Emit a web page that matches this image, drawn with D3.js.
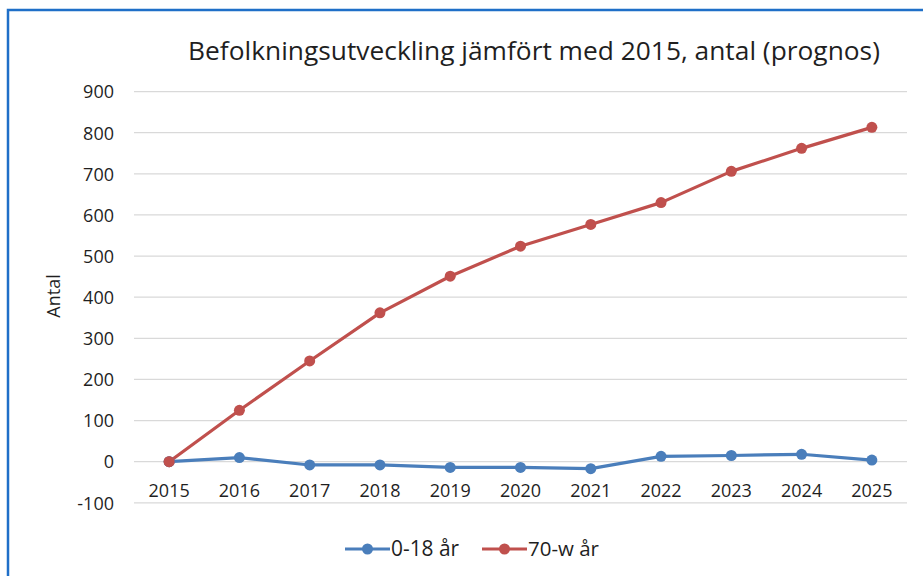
<!DOCTYPE html>
<html><head><meta charset="utf-8">
<script src="https://cdn.jsdelivr.net/npm/d3@7"></script>
<style>body{margin:0;background:#fff}svg{display:block}text{font-family:"Open Sans","Noto Sans",sans-serif}</style>
</head><body>
<script>
const years = ["2015","2016","2017","2018","2019","2020","2021","2022","2023","2024","2025"];
const youth = [0, 10, -8, -8, -14, -14, -17, 13, 15, 18, 4];
const elderly = [0, 125, 245, 362, 451, 524, 577, 630, 706, 762, 813];
const yTicks = [-100, 0, 100, 200, 300, 400, 500, 600, 700, 800, 900];
const seriesNames = ["0-18 år", "70-w år"];
const seriesColors = ["#4a7ebb", "#c0504d"];
const titleText = "Befolkningsutveckling jämfört med 2015, antal (prognos)";
const yLabel = "Antal";

const W = 923, H = 576;
const svg = d3.select("body").append("svg").attr("width", W).attr("height", H);

// frame (cropped border)
svg.append("rect").attr("x", 8).attr("y", 10).attr("width", W + 20).attr("height", H + 20)
  .attr("fill", "#fff").attr("stroke", "#1f6fc8").attr("stroke-width", 2.5);

const x = d3.scaleBand().domain(years).range([134, 907]);
const y = d3.scaleLinear().domain([-100, 900]).range([502.8, 91.6]);

// gridlines
svg.append("g").selectAll("line").data(yTicks).join("line")
  .attr("x1", 134).attr("x2", 907)
  .attr("y1", d => y(d)).attr("y2", d => y(d))
  .attr("stroke", "#d9d9d9").attr("stroke-width", 1.2);

const txtCol = "#1f1f1f";
// y axis labels
const yAxis = d3.axisLeft(y).tickValues(yTicks).tickFormat(d => String(d)).tickSize(0).tickPadding(0);
const gy = svg.append("g").attr("transform", "translate(114,0)").call(yAxis);
gy.select(".domain").remove();
gy.selectAll("text").attr("font-size", 18).attr("fill", txtCol).attr("dy", "0.35em");

// x axis labels (positioned just below zero line)
const xAxis = d3.axisBottom(x).tickSize(0).tickPadding(0);
const gx = svg.append("g").attr("transform", `translate(0,${y(0) + 29})`).call(xAxis);
gx.select(".domain").remove();
gx.selectAll("text").attr("font-size", 18).attr("fill", txtCol).attr("dy", "0.35em");

// y label
svg.append("text").attr("transform", "translate(54,296) rotate(-90)")
  .attr("text-anchor", "middle").attr("dy", "0.35em")
  .attr("font-size", 18).attr("fill", txtCol).text(yLabel);

// title
const t = svg.append("text").attr("x", 534).attr("y", 51).attr("text-anchor", "middle")
  .attr("dy", "0.35em").attr("font-size", 22).attr("fill", txtCol).text(titleText);
const tl = t.node().getComputedTextLength();
t.attr("font-size", 22 * 692 / tl);

// lines
const cx = d => x(d) + x.bandwidth() / 2;
const data = [youth, elderly];
const line = d3.line().x((d, i) => cx(years[i])).y(d => y(d));
[1, 0].forEach(s => {
  svg.append("path").datum(data[s]).attr("d", line).attr("fill", "none")
    .attr("stroke", seriesColors[s]).attr("stroke-width", 3.2).attr("stroke-linejoin", "round");
  svg.append("g").selectAll("circle").data(data[s]).join("circle")
    .attr("cx", (d, i) => cx(years[i])).attr("cy", d => y(d)).attr("r", 5.5)
    .attr("fill", seriesColors[s]);
});
// red first point drawn on top (as in reference)
svg.append("circle").attr("cx", cx(years[0])).attr("cy", y(elderly[0])).attr("r", 5.5).attr("fill", seriesColors[1]);

// legend
const legX = [345, 482];
seriesNames.forEach((n, i) => {
  const g = svg.append("g");
  g.append("line").attr("x1", legX[i]).attr("x2", legX[i] + 45).attr("y1", 549).attr("y2", 549)
    .attr("stroke", seriesColors[i]).attr("stroke-width", 3.2);
  g.append("circle").attr("cx", legX[i] + 22.5).attr("cy", 549).attr("r", 5.5).attr("fill", seriesColors[i]);
  const tx = g.append("text").attr("x", legX[i] + 46).attr("y", 549).attr("dy", "0.35em")
    .attr("font-size", 19).attr("fill", txtCol).text(n);
  const w = tx.node().getComputedTextLength();
  tx.attr("font-size", 19 * Math.min(1.1, 71 / w));
});
</script>
</body></html>
